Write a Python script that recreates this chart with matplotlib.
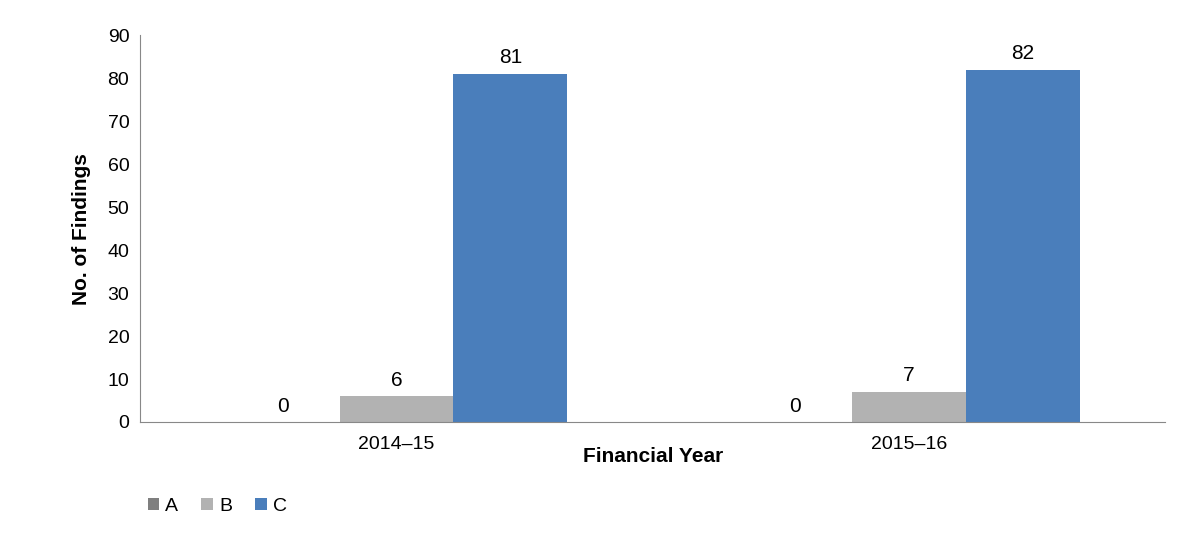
import numpy as np
import matplotlib
matplotlib.use("Agg")
import matplotlib.pyplot as plt

plt.rcParams["font.family"] = ["Liberation Sans", "DejaVu Sans"]

years = ["2014\u201315", "2015\u201316"]
series = ["A", "B", "C"]
values_a = [0, 0]
values_b = [6, 7]
values_c = [81, 82]
colors = ["#7f7f7f", "#b2b2b2", "#4a7ebb"]

fig = plt.figure(figsize=(12, 5.41), dpi=100)
ax = fig.add_axes([0.117, 0.22, 0.854, 0.715])

x = np.arange(len(years))
w = 0.222
for i, (name, vals) in enumerate(zip(series, [values_a, values_b, values_c])):
    bars = ax.bar(x + (i - 1) * w, vals, w, color=colors[i], label=name)
    for b, v in zip(bars, vals):
        ax.text(b.get_x() + b.get_width() / 2, v + 1.5, f"{v}",
                ha="center", va="bottom", fontsize=15)

ax.set_xlim(-0.5, 1.5)
ax.set_ylim(0, 90)
ax.set_yticks(range(0, 91, 10))
ax.set_xticks(x)
ax.set_xticklabels(years)
ax.tick_params(axis="both", labelsize=14, length=0)
ax.tick_params(axis="y", pad=8)
ax.tick_params(axis="x", pad=10)
for s in ("top", "right"):
    ax.spines[s].set_visible(False)
for s in ("left", "bottom"):
    ax.spines[s].set_color("#888888")
ax.set_xlabel("Financial Year", fontsize=15, fontweight="bold", labelpad=-4)
ax.set_ylabel("No. of Findings", fontsize=15, fontweight="bold", labelpad=12)

ax.legend(loc="upper left", bbox_to_anchor=(-0.01, -0.15), ncol=3, frameon=False,
          fontsize=14, handlelength=0.6, handleheight=0.6, handletextpad=0.3,
          columnspacing=1.2)

fig.savefig("out.png", dpi=100)
